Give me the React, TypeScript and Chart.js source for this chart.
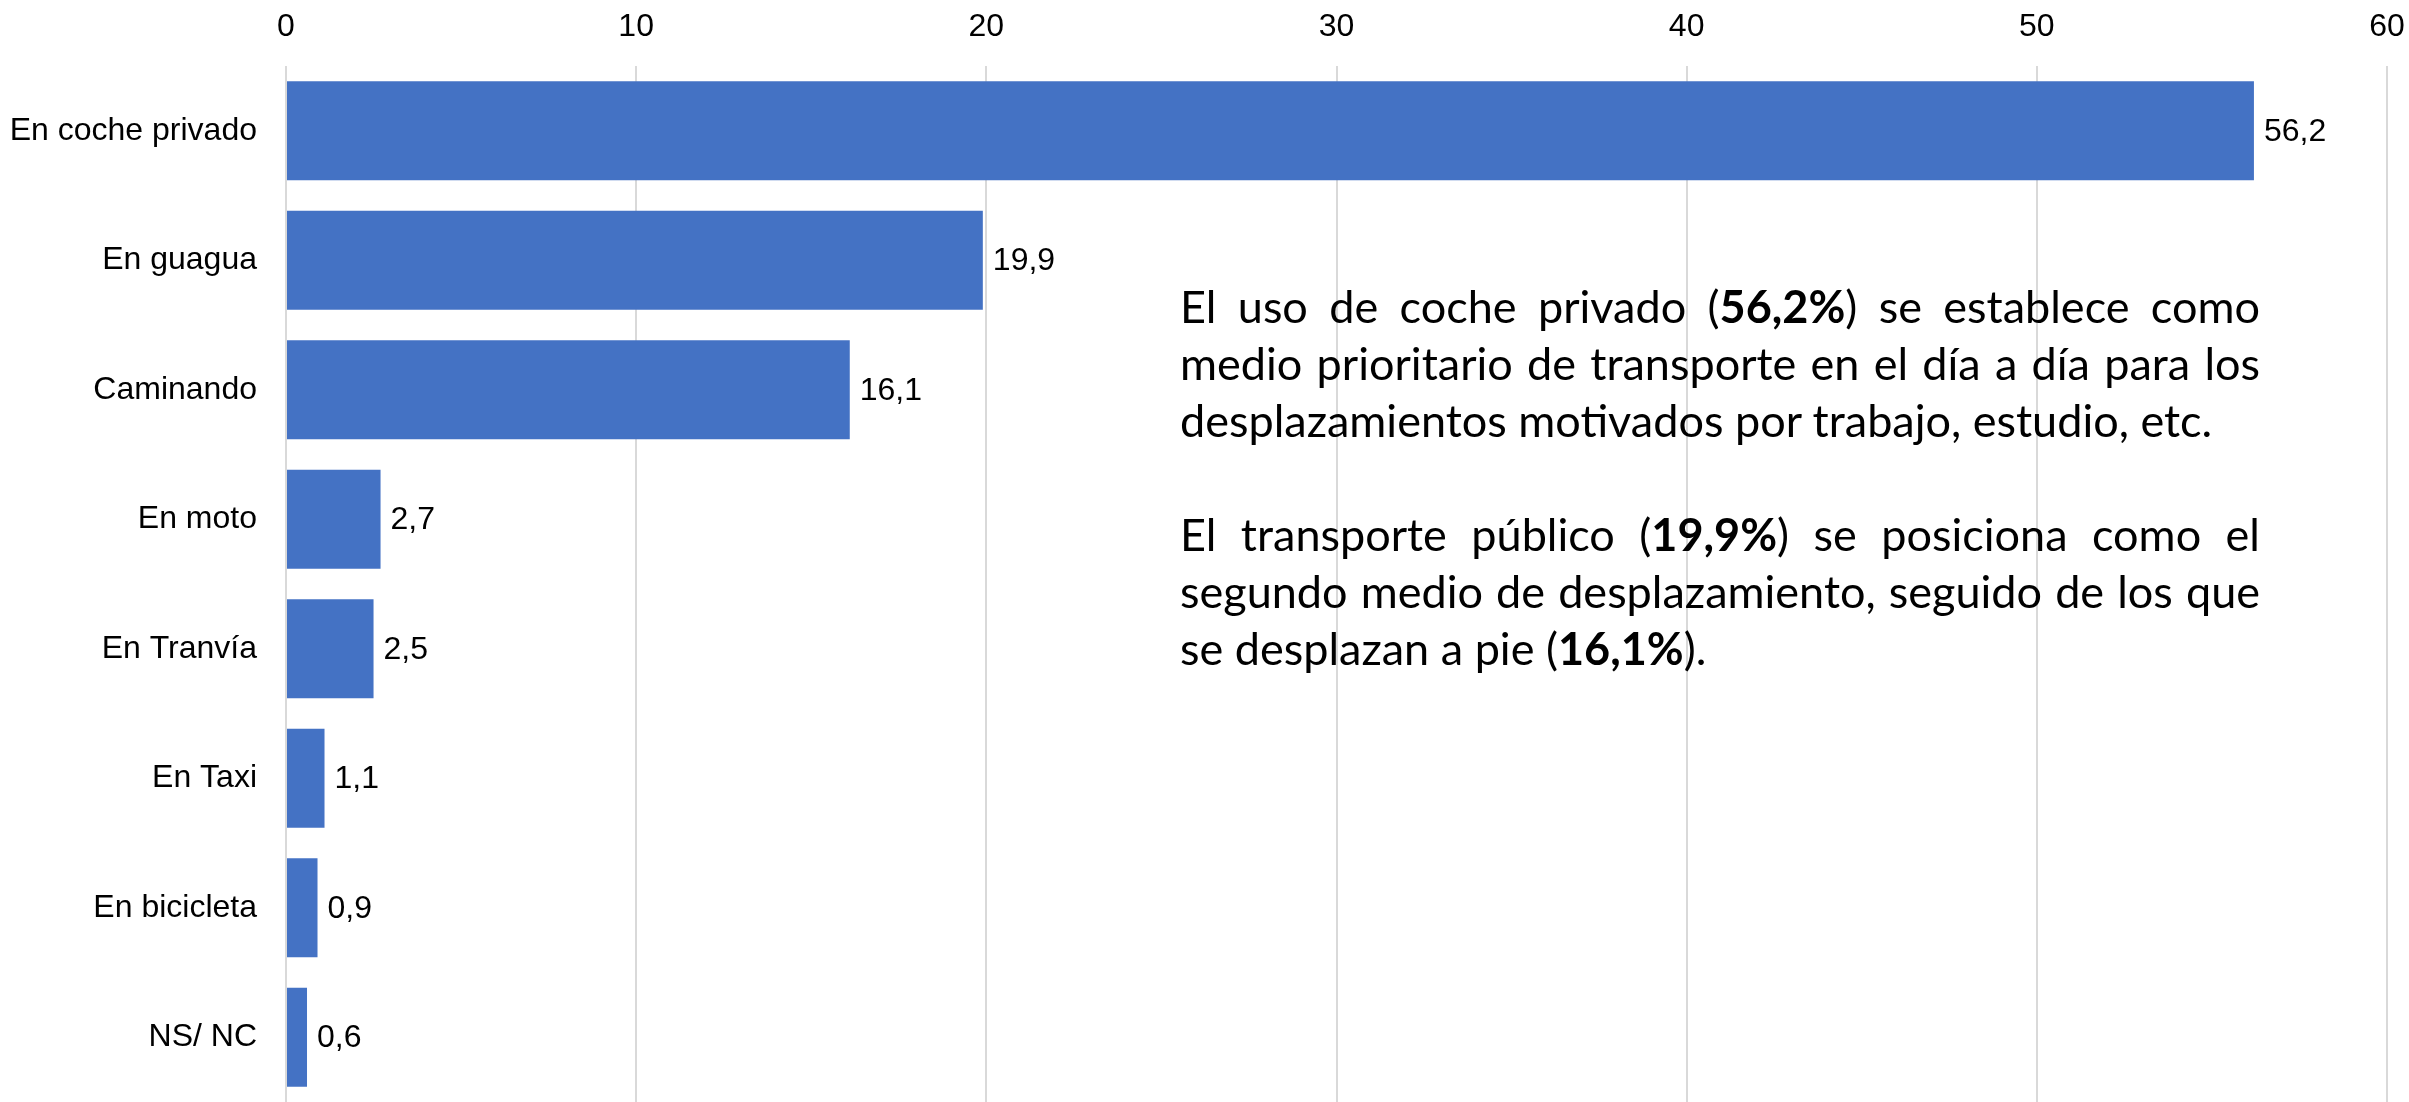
import React, { useEffect, useRef } from 'react';
import { Chart, registerables } from 'chart.js';

Chart.register(...registerables);

const categories = ['En coche privado', 'En guagua', 'Caminando', 'En moto', 'En Tranvía', 'En Taxi', 'En bicicleta', 'NS/ NC'];
const values = [56.2, 19.9, 16.1, 2.7, 2.5, 1.1, 0.9, 0.6];
const xMin = 0;
const xMax = 60;
const xStep = 10;

type Seg = { t: string; b?: boolean };
type Line = { segs: Seg[]; justify: boolean };

const noteLines: Line[] = [
  { segs: [{ t: 'El uso de coche privado (' }, { t: '56,2%', b: true }, { t: ') se establece como' }], justify: true },
  { segs: [{ t: 'medio prioritario de transporte en el día a día para los' }], justify: true },
  { segs: [{ t: 'desplazamientos motivados por trabajo, estudio, etc.' }], justify: false },
  { segs: [], justify: false },
  { segs: [{ t: 'El transporte público (' }, { t: '19,9%', b: true }, { t: ') se posiciona como el' }], justify: true },
  { segs: [{ t: 'segundo medio de desplazamiento, seguido de los que' }], justify: true },
  { segs: [{ t: 'se desplazan a pie (' }, { t: '16,1%', b: true }, { t: ').' }], justify: false },
];

const fmt = (v: number) => v.toFixed(1).replace('.', ',');

const FONT = '"Liberation Sans", Arial, sans-serif';

const valueLabels = {
  id: 'valueLabels',
  afterDatasetsDraw(chart: any) {
    const ctx = chart.ctx;
    const meta = chart.getDatasetMeta(0);
    ctx.save();
    ctx.font = `32px ${FONT}`;
    ctx.fillStyle = '#000000';
    ctx.textAlign = 'left';
    ctx.textBaseline = 'middle';
    meta.data.forEach((bar: any, i: number) => {
      const p = bar.getProps(['x', 'y'], true);
      ctx.fillText(fmt(values[i]), p.x + 10, p.y + 1);
    });
    ctx.restore();
  },
};

export default function App() {
  const ref = useRef<HTMLCanvasElement | null>(null);

  useEffect(() => {
    if (!ref.current) return;
    const chart = new Chart(ref.current, {
      type: 'bar',
      data: {
        labels: categories,
        datasets: [
          {
            data: values,
            backgroundColor: '#4472C4',
            borderWidth: 0,
            barPercentage: 0.765,
            categoryPercentage: 1,
          },
        ],
      },
      options: {
        indexAxis: 'y',
        responsive: false,
        animation: false,
        layout: { padding: 0 },
        plugins: {
          legend: { display: false },
          tooltip: { enabled: false },
        },
        scales: {
          x: {
            position: 'top',
            min: xMin,
            max: xMax,
            ticks: {
              stepSize: xStep,
              padding: 20,
              color: '#000000',
              font: { family: FONT, size: 32 },
            },
            grid: { color: '#d9d9d9', lineWidth: 2, drawTicks: false },
            border: { display: false },
            afterFit: (s: any) => {
              s.height = 66;
              s.paddingLeft = 0;
              s.paddingRight = 22;
            },
          },
          y: {
            ticks: {
              padding: 29,
              color: '#000000',
              font: { family: FONT, size: 32 },
            },
            grid: { display: false, drawTicks: false },
            border: { display: false },
            afterFit: (s: any) => {
              s.width = 286;
              s.paddingTop = 0;
              s.paddingBottom = 0;
            },
          },
        },
      },
      plugins: [valueLabels],
    });
    return () => chart.destroy();
  }, []);

  return (
    <div style={{ position: 'absolute', left: 0, top: 0, width: 2409, height: 1102, background: '#ffffff', overflow: 'hidden' }}>
      <canvas ref={ref} width={2409} height={1102} style={{ width: 2409, height: 1102, display: 'block' }} />
      <div
        style={{
          position: 'absolute',
          left: 1180,
          top: 278,
          width: 1080,
          fontFamily: 'Lato, "Open Sans", sans-serif',
          fontSize: 45,
          lineHeight: '57px',
          color: '#000000',
        }}
      >
        {noteLines.map((ln, i) => (
          <div
            key={i}
            style={{
              height: 57,
              textAlign: ln.justify ? 'justify' : 'left',
              textAlignLast: ln.justify ? 'justify' : 'left',
              whiteSpace: ln.justify ? 'normal' : 'nowrap',
            } as any}
          >
            {ln.segs.map((s, j) => (
              <span key={j} style={{ fontWeight: s.b ? 700 : 400 }}>
                {s.t}
              </span>
            ))}
          </div>
        ))}
      </div>
    </div>
  );
}
